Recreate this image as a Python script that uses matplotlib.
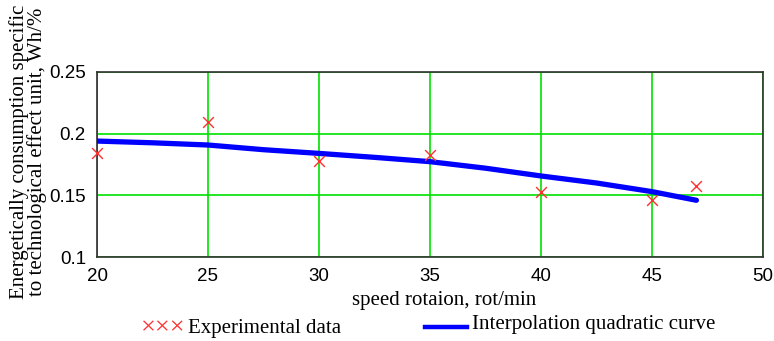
import matplotlib.pyplot as plt

# experimental points
speed = [20, 25, 30, 35, 40, 45, 47]
energy = [0.184, 0.2095, 0.178, 0.1827, 0.1527, 0.146, 0.1576]

# interpolation curve
curve_x = [20, 22.5, 25, 27.5, 30, 32.5, 35, 37.5, 40, 42.5, 45, 47]
curve_y = [0.194, 0.1926, 0.1908, 0.187, 0.184, 0.1808, 0.1773, 0.172, 0.1657, 0.160, 0.153, 0.146]

plt.rcParams['font.family'] = ['Liberation Serif', 'DejaVu Serif']

W, H = 774, 341
fig = plt.figure(figsize=(W / 100, H / 100), dpi=100)
ax = fig.add_axes([97 / W, 1 - 257 / H, 666 / W, 185 / H])

ax.grid(True, color='#00e000', linewidth=1.2)
ax.set_axisbelow(True)
ax.plot(curve_x, curve_y, color='#0000ff', linewidth=3.8, solid_capstyle='round', zorder=3)
ax.scatter(speed, energy, marker='x', color='#ff3030', s=60, linewidths=1.0, zorder=4, clip_on=False)

ax.set_xlim(20, 50)
ax.set_ylim(0.1, 0.25)
ax.set_xticks([20, 25, 30, 35, 40, 45, 50])
ax.set_yticks([0.1, 0.15, 0.2, 0.25])
ax.set_yticklabels(['0.1', '0.15', '0.2', '0.25'])
ax.tick_params(length=0, labelsize=13.5, pad=8)
for lab in ax.get_xticklabels() + ax.get_yticklabels():
    lab.set_family(['Liberation Sans', 'DejaVu Sans'])
for s in ax.spines.values():
    s.set_linewidth(1.2)
    s.set_color('#303030')

fig.text(444 / W, 1 - 300 / H, 'speed rotaion, rot/min', fontsize=15, ha='center', va='center')
fig.text(28 / W, 1 - 152 / H,
         'Energetically consumption specific\nto technological effect unit, Wh/%',
         fontsize=15, rotation=90, ha='center', va='center', linespacing=0.92)

# legend below the plot
fig.text(141 / W, 1 - 328 / H, '×××', color='#ff3030', fontsize=19, va='center')
fig.text(188 / W, 1 - 328 / H, 'Experimental data', fontsize=15, va='center')
fig.add_artist(plt.Line2D([425 / W, 467 / W], [1 - 327 / H, 1 - 327 / H],
                          color='#0000ff', linewidth=3.2))
fig.text(472 / W, 1 - 325 / H, 'Interpolation quadratic curve', fontsize=15, va='center')

fig.savefig('out.png', dpi=100)
